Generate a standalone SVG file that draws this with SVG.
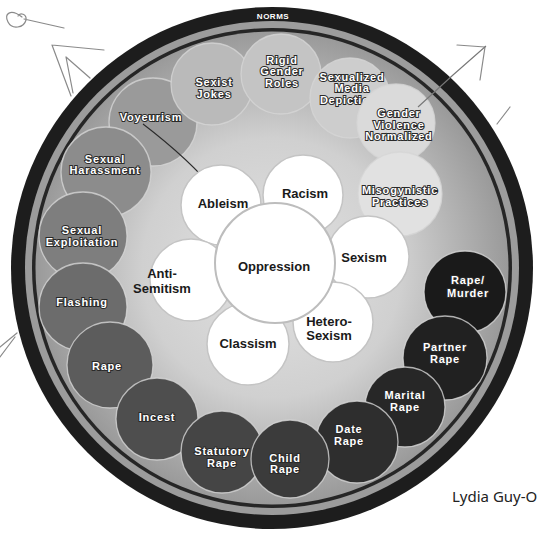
<svg xmlns="http://www.w3.org/2000/svg" width="541" height="541" viewBox="0 0 541 541">
<defs>
<radialGradient id="bg" cx="272" cy="268" r="236" gradientUnits="userSpaceOnUse">
<stop offset="0" stop-color="#e2e2e2"/>
<stop offset="0.55" stop-color="#d0d0d0"/>
<stop offset="1" stop-color="#9a9a9a"/>
</radialGradient>
<style>
.oc{stroke:#d6d6d6;stroke-width:1.3;stroke-opacity:0.8}
.ot{font-family:"Liberation Sans",Arial,sans-serif;font-weight:bold;font-size:11px;letter-spacing:0.8px;fill:#ffffff;stroke:#2a2a2a;stroke-width:2;paint-order:stroke;text-anchor:middle}
.ic{fill:#ffffff;stroke:#c4c4c4;stroke-width:1.5}
.it{font-family:"Liberation Sans",Arial,sans-serif;font-weight:bold;font-size:13px;fill:#1a1a1a;text-anchor:middle}
.scr{fill:none;stroke:#8a8a8a;stroke-width:1.2;stroke-linecap:round;stroke-linejoin:round}
</style>
</defs>
<rect width="541" height="541" fill="#ffffff"/>
<g id="scribbles">
<path class="scr" d="M22 17 C10 8 4 14 8 22 C12 30 24 28 26 20 C27 14 20 12 18 16 M24 19 L64 28"/>
<path class="scr" d="M52 45 L104 50 M52 45 L71 96 M66 57 L73 93 M66 57 L90 78"/>
<path class="scr" d="M17 333 L0 347 M15 337 L0 357"/>
<path class="scr" d="M457 45 L485 47 L480 80"/>
<path class="scr" d="M497 124 L510 107"/>
</g>
<g id="ring">
<circle cx="272" cy="268" r="261" fill="#1d1d1d"/>
<circle cx="272" cy="268" r="247" fill="#9c9c9c"/>
<circle cx="272" cy="268" r="240" fill="#262626"/>
<circle cx="272" cy="268" r="236.5" fill="url(#bg)"/>
<text x="273" y="18.5" font-family="Liberation Sans,Arial,sans-serif" font-weight="bold" font-size="8" letter-spacing="0.5" fill="#ffffff" text-anchor="middle">NORMS</text>
</g>
<g id="n-voyeurism"><circle class="oc" cx="153" cy="122" r="44" fill="#9a9a9a"/><text class="ot" x="151" y="121">Voyeurism</text></g>
<g id="n-harassment"><circle class="oc" cx="106" cy="172" r="45" fill="#8c8c8c"/><text class="ot" x="105" y="162.5">Sexual</text><text class="ot" x="105" y="174">Harassment</text></g>
<g id="n-exploitation"><circle class="oc" cx="83" cy="236" r="44" fill="#7e7e7e"/><text class="ot" x="82" y="233.5">Sexual</text><text class="ot" x="82" y="245.5">Exploitation</text></g>
<g id="n-flashing"><circle class="oc" cx="83" cy="307" r="44" fill="#6c6c6c"/><text class="ot" x="82" y="306">Flashing</text></g>
<g id="n-rape"><circle class="oc" cx="110" cy="365" r="43" fill="#5c5c5c"/><text class="ot" x="107" y="370">Rape</text></g>
<g id="n-incest"><circle class="oc" cx="157" cy="419" r="41" fill="#4e4e4e"/><text class="ot" x="157" y="421">Incest</text></g>
<g id="n-statutory"><circle class="oc" cx="222" cy="452" r="41" fill="#454545"/><text class="ot" x="222" y="455">Statutory</text><text class="ot" x="222" y="466.5">Rape</text></g>
<g id="n-rapemurder"><circle class="oc" cx="465" cy="292" r="41" fill="#1a1a1a"/><text class="ot" x="468" y="284">Rape/</text><text class="ot" x="468" y="297">Murder</text></g>
<g id="n-partner"><circle class="oc" cx="445" cy="358" r="42" fill="#212121"/><text class="ot" x="445" y="351">Partner</text><text class="ot" x="445" y="362.5">Rape</text></g>
<g id="n-marital"><circle class="oc" cx="405" cy="407" r="40" fill="#272727"/><text class="ot" x="405" y="399">Marital</text><text class="ot" x="405" y="411">Rape</text></g>
<g id="n-date"><circle class="oc" cx="357" cy="442" r="41" fill="#2e2e2e"/><text class="ot" x="349" y="433">Date</text><text class="ot" x="349" y="445">Rape</text></g>
<g id="n-child"><circle class="oc" cx="290" cy="459" r="39" fill="#3b3b3b"/><text class="ot" x="285" y="462">Child</text><text class="ot" x="285" y="473">Rape</text></g>
<g id="n-jokes"><circle class="oc" cx="212" cy="84" r="41" fill="#bababa"/><text class="ot" x="214" y="86">Sexist</text><text class="ot" x="214" y="98">Jokes</text></g>
<g id="n-rigid"><circle class="oc" cx="281" cy="74" r="40" fill="#c4c4c4"/><text class="ot" x="282" y="63.5">Rigid</text><text class="ot" x="282" y="75">Gender</text><text class="ot" x="282" y="86.5">Roles</text></g>
<g id="n-media"><circle class="oc" cx="350" cy="98" r="40" fill="#cdcdcd"/><text class="ot" x="352" y="80.5">Sexualized</text><text class="ot" x="352" y="92">Media</text><text class="ot" x="352" y="103.5">Depictions</text></g>
<g id="n-violence"><circle class="oc" cx="396" cy="123" r="39" fill="#dadada"/><text class="ot" x="399" y="117">Gender</text><text class="ot" x="399" y="128.5">Violence</text><text class="ot" x="399" y="140">Normalized</text></g>
<g id="n-misogyny"><circle class="oc" cx="400" cy="194" r="42" fill="#e1e1e1"/><text class="ot" x="400" y="194">Misogynistic</text><text class="ot" x="400" y="206">Practices</text></g>
<g id="connectors">
<path d="M143 124 Q190 160 217 193" fill="none" stroke="#2a2a2a" stroke-width="1.1"/>
<path d="M418 107 L453 75 L486 46" fill="none" stroke="#777777" stroke-width="1.1"/>
</g>
<g id="n-ableism"><circle class="ic" cx="221" cy="205" r="40"/><text class="it" x="223" y="207.5">Ableism</text></g>
<g id="n-racism"><circle class="ic" cx="303" cy="195" r="40"/><text class="it" x="305" y="197.5">Racism</text></g>
<g id="n-sexism"><circle class="ic" cx="368" cy="257" r="41"/><text class="it" x="364" y="261.5">Sexism</text></g>
<g id="n-heterosexism"><circle class="ic" cx="333" cy="322" r="40"/><text class="it" x="329" y="325.5">Hetero-</text><text class="it" x="329" y="340">Sexism</text></g>
<g id="n-classism"><circle class="ic" cx="248" cy="344" r="41"/><text class="it" x="248" y="348">Classism</text></g>
<g id="n-antisemitism"><circle class="ic" cx="191" cy="280" r="41"/><text class="it" x="162" y="278" text-anchor="start">Anti-</text><text class="it" x="162" y="292.5" text-anchor="start">Semitism</text></g>
<g id="n-oppression"><circle cx="275" cy="263" r="60" fill="#ffffff" stroke="#bdbdbd" stroke-width="2"/><text class="it" x="274" y="271" font-size="15">Oppression</text></g>
<text x="452" y="502" font-family="Noto Sans,Liberation Sans,sans-serif" font-size="15" fill="#222222">Lydia Guy-O</text>
</svg>
